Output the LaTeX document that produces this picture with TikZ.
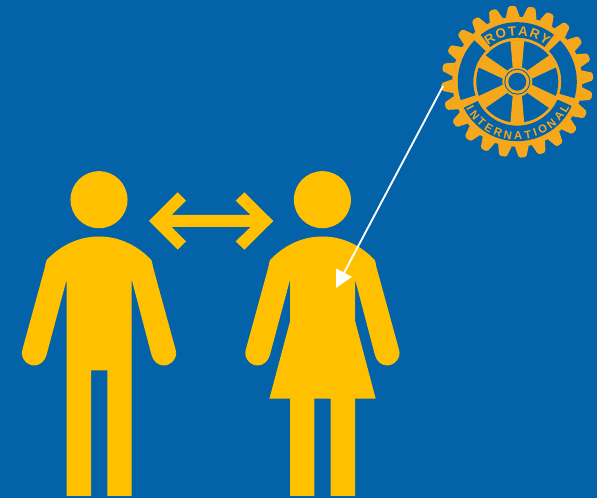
\documentclass[tikz,border=0pt]{standalone}
\usepackage{fontspec}
\setmainfont{Liberation Sans}
\usetikzlibrary{arrows.meta,calc,decorations.text}
\definecolor{rotblue}{HTML}{0362A8}
\definecolor{figyellow}{HTML}{FFC000}
\definecolor{wheelgold}{HTML}{F5A81C}
\tikzset{
  figure/.style={fill=figyellow,draw=none},
  wheel/.style ={fill=wheelgold,draw=none},
  hole/.style  ={fill=rotblue,draw=none},
  flow/.style  ={-{Triangle[length=13pt,width=13pt]},draw=white,line width=1.4pt},
}
\begin{document}
\begin{tikzpicture}[x=0.75pt,y=-0.75pt]
  \useasboundingbox (0,0) rectangle (597,498);
  \fill[rotblue] (0,0) rectangle (597,498);
  % man
  \fill[figure] (99,199.7) circle[radius=21.4pt];
  \fill[figure] (46.7,260) .. controls (60,246) and (78,236.5) .. (99,236.5)
    .. controls (120,236.5) and (138,246) .. (151.3,260)
    .. controls (152,262) and (152.7,264) .. (153,267)
    -- (175.7,350) .. controls (178,358) and (171,365.5) .. (163.7,365.5)
    .. controls (158,365.5) and (153,361) .. (151.5,355)
    -- (131.7,279.5) -- (131.7,496) -- (107.3,496) -- (107.3,370.3)
    -- (91,370.3) -- (91,496) -- (66.7,496) -- (66.7,279.5)
    -- (46.5,355) .. controls (45,361) and (40,365.5) .. (34.3,365.5)
    .. controls (27,365.5) and (20,358) .. (22.3,350)
    -- (45,267) .. controls (45.3,264) and (46,262) .. (46.7,260) -- cycle;
  % woman
  \begin{scope}[xshift=167.55pt]
    \fill[figure] (99,199.7) circle[radius=21.4pt];
    \fill[figure] (46.7,260) .. controls (60,246) and (78,236.5) .. (99,236.5)
      .. controls (120,236.5) and (138,246) .. (151.3,260)
      .. controls (152,262) and (152.7,264) .. (153,267)
      -- (175.7,350) .. controls (178,358) and (171,365.5) .. (163.7,365.5)
      .. controls (158,365.5) and (153,361) .. (151.5,355)
      -- (131.7,279.5) -- (131.7,321) -- (152.3,398.7) -- (131.7,398.7)
      -- (131.7,496) -- (107.3,496) -- (107.3,398.7)
      -- (91,398.7) -- (91,496) -- (66.7,496) -- (66.7,398.7) -- (46,398.7)
      -- (66.7,321) -- (66.7,279.5)
      -- (46.5,355) .. controls (45,361) and (40,365.5) .. (34.3,365.5)
      .. controls (27,365.5) and (20,358) .. (22.3,350)
      -- (45,267) .. controls (45.3,264) and (46,262) .. (46.7,260) -- cycle;
  \end{scope}
  % double arrow
  \fill[figure] (149,221) -- (177.7,192.3) -- (186,200.7) -- (171.7,215)
    -- (250.6,215) -- (235.7,200.7) -- (244.3,192.3) -- (273.3,221)
    -- (244.3,249.7) -- (235.7,241.3) -- (250.6,227) -- (171.7,227)
    -- (186,241.3) -- (177.7,249.7) -- cycle;
  % rotary wheel
  \coordinate (hub) at (517.3,81.7);
  \begin{scope}[shift={(hub)},y=0.75pt]
    % cogs
    \foreach \a in {4,19,...,349}
      \fill[wheel,rounded corners=1.2pt] (\a-6.5:64) -- (\a-2.8:76) -- (\a+2.8:76) -- (\a+6.5:64) -- cycle;
    \fill[wheel] (0,0) circle[radius=65];
    % blue bands
    \foreach \from/\to in {52/128,136/198,206/336,-16/44}
      \fill[hole] (\from:44) arc[start angle=\from,end angle=\to,radius=44]
        -- (\to:59.5) arc[start angle=\to,end angle=\from,radius=59.5] -- cycle;
    % spokes
    \fill[hole] (0,0) circle[radius=41];
    \foreach \a in {30,90,...,330}
      \fill[wheel] (\a-18:15) -- (\a-9.5:42) -- (\a+9.5:42) -- (\a+18:15) -- cycle;
    % hub rings
    \fill[wheel] (0,0) circle[radius=15];
    \fill[hole] (0,0) circle[radius=13];
    \fill[wheel] (0,0) circle[radius=12];
    \fill[hole] (0,0) circle[radius=9];
    % lettering
    \path[decorate,decoration={text along path,text align={fit to path},
        text={|\bfseries\fontsize{10pt}{10pt}\selectfont\color{wheelgold}|ROTARY}}]
      (129:46) arc[start angle=129,end angle=51,radius=46];
    \path[decorate,decoration={text along path,text align={fit to path},
        text={|\bfseries\fontsize{8.5pt}{8.5pt}\selectfont\color{wheelgold}|INTERNATIONAL}}]
      (208:58) arc[start angle=208,end angle=334,radius=58];
  \end{scope}
  % arrow to woman
  \coordinate (wheeledge) at (443,86);
  \coordinate (chest) at (336,288);
  \draw[flow] (wheeledge) -- (chest);
\end{tikzpicture}
\end{document}
